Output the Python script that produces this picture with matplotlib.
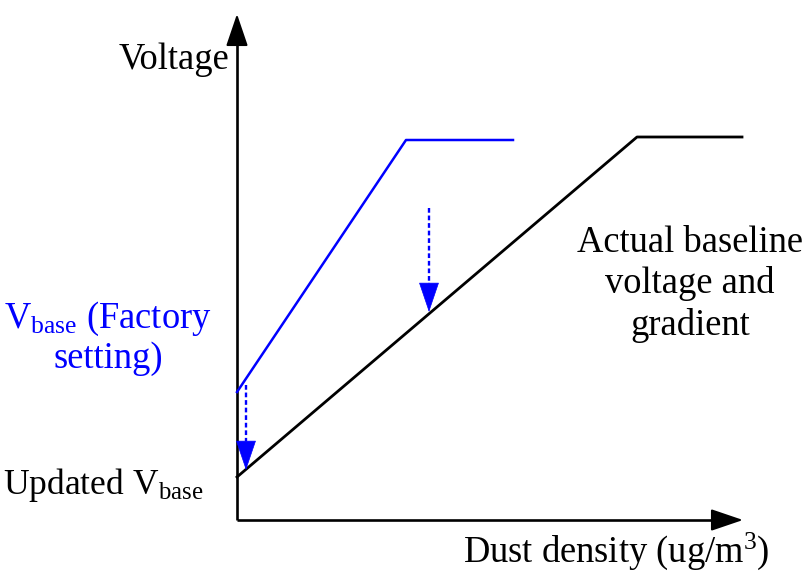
import matplotlib
matplotlib.use("Agg")
import matplotlib.pyplot as plt

plt.rcParams['font.family'] = ['Liberation Serif', 'DejaVu Serif']
plt.rcParams['mathtext.fontset'] = 'custom'
plt.rcParams['mathtext.rm'] = 'Liberation Serif'
plt.rcParams['mathtext.it'] = 'Liberation Serif:italic'

# Data (arbitrary units)
factory_x = [0.0, 3.38, 5.52]
factory_y = [2.56, 7.6, 7.6]
actual_x = [0.0, 8.0, 10.1]
actual_y = [0.86, 7.66, 7.66]
axis_x_end = 10.12
axis_y_end = 10.12
# dashed shift arrows: (x, y_start, y_end)
shift_arrows = [(0.18, 2.7, 1.0), (3.84, 6.24, 4.16)]

DPI = 100
fig = plt.figure(figsize=(8.08, 5.72), dpi=DPI)
ax = fig.add_axes([0, 0, 1, 1])
ax.set_xlim(-237 / 50, (808 - 237) / 50)
ax.set_ylim(-(572 - 520) / 50, 520 / 50)
ax.axis('off')

# axes with arrows
ax.plot([0, 0], [0, axis_y_end - 0.5], color='black', lw=1.9, solid_capstyle='butt')
ax.plot([0, axis_x_end - 0.5], [0, 0], color='black', lw=1.9, solid_capstyle='butt')
ax.annotate('', xy=(0, axis_y_end), xytext=(0, axis_y_end - 0.6),
            arrowprops=dict(arrowstyle='-|>,head_length=20,head_width=6.8', mutation_scale=1,
                            color='black', lw=1.5, shrinkA=0, shrinkB=0))
ax.annotate('', xy=(axis_x_end, 0), xytext=(axis_x_end - 0.6, 0),
            arrowprops=dict(arrowstyle='-|>,head_length=20,head_width=6.8', mutation_scale=1,
                            color='black', lw=1.5, shrinkA=0, shrinkB=0))

ax.plot(factory_x, factory_y, color='#0000ff', lw=1.8)
ax.plot(actual_x, actual_y, color='black', lw=2.0)

for x, y0, y1 in shift_arrows:
    head = 0.58
    ax.plot([x, x], [y0, y1 + head], color='#0000ff', lw=1.7, linestyle=(0, (2, 1.2)))
    ax.annotate('', xy=(x, y1), xytext=(x, y1 + head),
                arrowprops=dict(arrowstyle='-|>,head_length=20,head_width=6.8', mutation_scale=1,
                                color='#0000ff', lw=0.5, shrinkA=0, shrinkB=0))

fs = 26.3
ax.text(-0.16, 9.2, 'Voltage', ha='right', va='center', fontsize=fs)
ax.text(4.52, -0.62, r'Dust density (ug/m$^3$)', ha='left', va='center', fontsize=fs)
ax.text(9.06, 4.72, 'Actual baseline\nvoltage and\ngradient', ha='center', va='center',
        fontsize=fs, linespacing=1.24)
ax.text(-2.58, 3.64, r'V$_{\rm base}$ (Factory' + '\nsetting)', ha='center', va='center',
        fontsize=fs, color='#0000ff', linespacing=1.12)
ax.text(-0.68, 0.7, r'Updated V$_{\rm base}$', ha='right', va='center', fontsize=25.6)

fig.savefig('out.png', dpi=DPI)
